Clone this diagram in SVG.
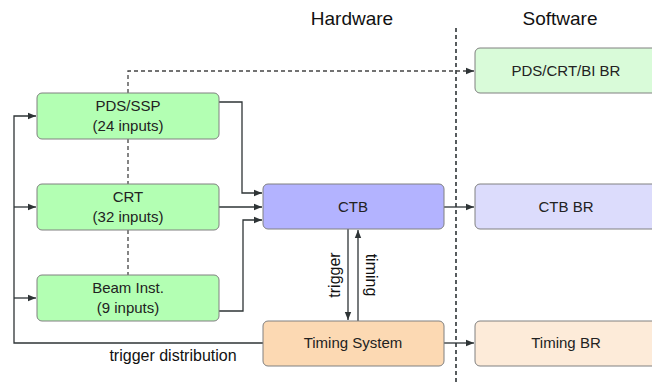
<svg xmlns="http://www.w3.org/2000/svg" width="652" height="385" viewBox="0 0 652 385">
<defs>
<marker id="arr" viewBox="0 0 8 8" refX="8" refY="4" markerWidth="8" markerHeight="8" markerUnits="userSpaceOnUse" orient="auto">
<path d="M0,0.8 L8,4 L0,7.2 Z" fill="#2e3436"/>
</marker>
<style>
.box{stroke:#808080;stroke-width:1}
.g{fill:#b3ffb3}.b{fill:#b3b3ff}.o{fill:#fcd9b3}
.g2{fill:#d9fbd9}.b2{fill:#dcdcfc}.o2{fill:#fdebd9}
.t{font-family:"Liberation Sans",Arial,sans-serif;font-size:15px;fill:#222;text-anchor:middle}
.h{font-family:"Liberation Sans",Arial,sans-serif;fill:#111;text-anchor:middle}
.c{fill:none;stroke:#2e3436;stroke-width:1.3}
.d{fill:none;stroke:#444;stroke-width:1.3;stroke-dasharray:4,3}
</style>
</defs>
<rect width="652" height="385" fill="#fff"/>
<text class="h" x="352" y="25" font-size="19">Hardware</text>
<text class="h" x="560" y="25" font-size="19">Software</text>
<line x1="456" y1="28" x2="456" y2="385" stroke="#2e3436" stroke-width="1.6" stroke-dasharray="4,3"/>
<g id="connectors">
<path class="d" d="M128,93 V71 H474" marker-end="url(#arr)"/>
<path class="d" d="M128,139 V184 M128,230 V275"/>
<path class="c" d="M219,102 H242 V193 H262" marker-end="url(#arr)"/>
<path class="c" d="M219,207 H262" marker-end="url(#arr)"/>
<path class="c" d="M219,311 H243 V220 H262" marker-end="url(#arr)"/>
<path class="c" d="M263,343 H14 V116 H36" marker-end="url(#arr)"/>
<path class="c" d="M14,207 H36" marker-end="url(#arr)"/>
<path class="c" d="M14,298 H36" marker-end="url(#arr)"/>
<path class="c" d="M348,229 V320" marker-end="url(#arr)"/>
<path class="c" d="M358,321 V230" marker-end="url(#arr)"/>
<path class="c" d="M444,207 H474" marker-end="url(#arr)"/>
<path class="c" d="M444,343 H474" marker-end="url(#arr)"/>
<text class="h" x="173" y="361" font-size="16">trigger distribution</text>
<text class="h" font-size="16" transform="translate(340,275) rotate(-90)">trigger</text>
<text class="h" font-size="16" transform="translate(366,275) rotate(90)">timing</text>
</g>
<g id="pds_ssp"><rect class="box g" x="37" y="93" width="182" height="46" rx="5"/><text class="t" x="128" y="111">PDS/SSP</text><text class="t" x="128" y="131">(24 inputs)</text></g>
<g id="crt"><rect class="box g" x="37" y="184" width="182" height="46" rx="5"/><text class="t" x="128" y="202">CRT</text><text class="t" x="128" y="222">(32 inputs)</text></g>
<g id="beam_inst"><rect class="box g" x="37" y="275" width="182" height="46" rx="5"/><text class="t" x="128" y="293">Beam Inst.</text><text class="t" x="128" y="313">(9 inputs)</text></g>
<g id="ctb"><rect class="box b" x="263" y="184" width="181" height="45" rx="5"/><text class="t" x="353" y="212">CTB</text></g>
<g id="timing_system"><rect class="box o" x="263" y="321" width="181" height="45" rx="5"/><text class="t" x="353" y="348">Timing System</text></g>
<g id="pds_crt_bi_br"><rect class="box g2" x="475" y="48" width="200" height="45" rx="5"/><text class="t" x="566" y="76">PDS/CRT/BI BR</text></g>
<g id="ctb_br"><rect class="box b2" x="475" y="184" width="200" height="45" rx="5"/><text class="t" x="566" y="212">CTB BR</text></g>
<g id="timing_br"><rect class="box o2" x="475" y="321" width="200" height="45" rx="5"/><text class="t" x="566" y="348">Timing BR</text></g>
</svg>
